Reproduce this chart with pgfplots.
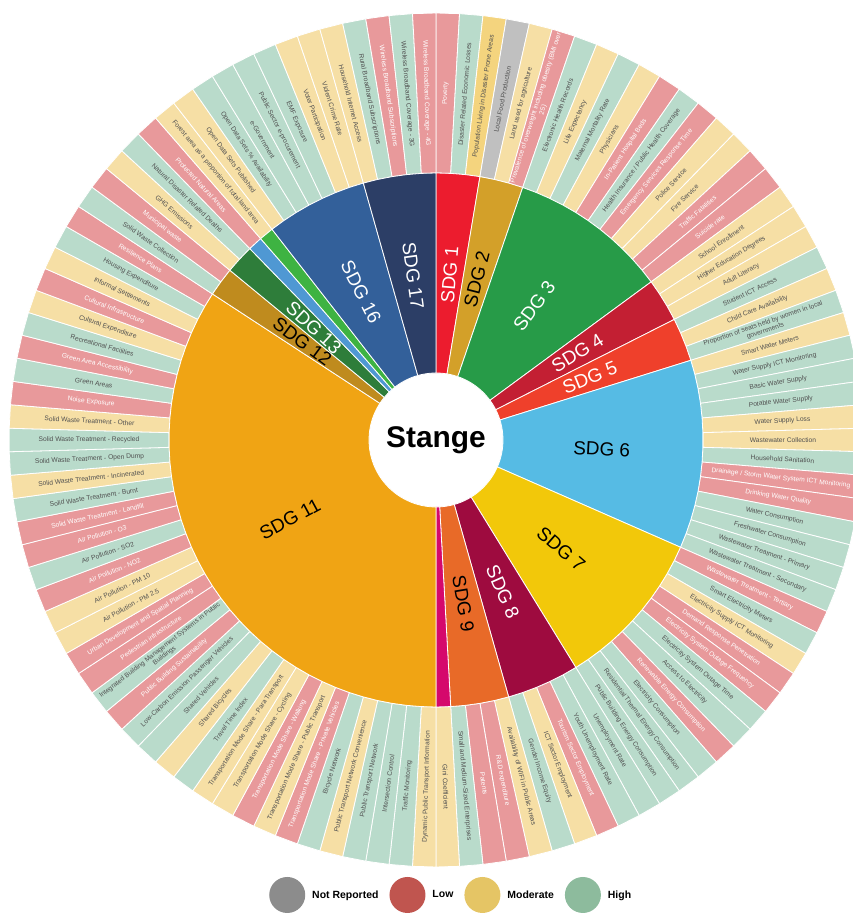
\documentclass[border=0pt]{standalone}
\usepackage{pgfplots}
\pgfplotsset{compat=1.18}
\usepackage{fontspec}
\setmainfont{Liberation Sans}

% status colours of the indicator ring
\definecolor{cL}{HTML}{E8999B}
\definecolor{cM}{HTML}{F6DFA5}
\definecolor{cMh}{HTML}{F4D47E}
\definecolor{cH}{HTML}{B9DBCB}
\definecolor{cN}{HTML}{C0C0C0}
\definecolor{txt}{HTML}{505050}
% legend colours
\definecolor{gN}{HTML}{8C8C8C}
\definecolor{gL}{HTML}{C0554F}
\definecolor{gM}{HTML}{E5C565}
\definecolor{gH}{HTML}{8DBB9D}
% SDG colours
\definecolor{s1}{HTML}{EC1C2E}
\definecolor{s2}{HTML}{D3A029}
\definecolor{s3}{HTML}{279B48}
\definecolor{s4}{HTML}{C31F33}
\definecolor{s5}{HTML}{EF402B}
\definecolor{s6}{HTML}{56BBE4}
\definecolor{s7}{HTML}{F2C80A}
\definecolor{s8}{HTML}{9E0B3F}
\definecolor{s9}{HTML}{E86A28}
\definecolor{s10}{HTML}{D5086C}
\definecolor{s11}{HTML}{F0A414}
\definecolor{s12}{HTML}{BF8B1E}
\definecolor{s13}{HTML}{2E7D3A}
\definecolor{s14}{HTML}{4F98D3}
\definecolor{s15}{HTML}{3EB342}
\definecolor{s16}{HTML}{33609A}
\definecolor{s17}{HTML}{2C3E66}

\def\step{3.1578947} % 360/114 degrees per indicator

% indicators, clockwise from 12 o'clock: status (L/M/H/N) and name
\newcount\nind
\newcommand\ind[2]{\global\advance\nind by 1
  \expandafter\xdef\csname st\the\nind\endcsname{#1}%
  \expandafter\gdef\csname lb\the\nind\endcsname{#2}}
\ind{L}{Poverty}
\ind{H}{Disaster Related Economic Losses}
\ind{Mh}{Population Living in Disaster Prone Areas}
\ind{N}{Local Food Production}
\ind{M}{Land used for agriculture}
\ind{L}{Prevalence of overweight including obesity (BMI over\\25)}
\ind{H}{Electronic Health Records}
\ind{M}{Life Expectancy}
\ind{H}{Maternal Mortality Rate}
\ind{M}{Physicians}
\ind{L}{In-Patient Hospital Beds}
\ind{H}{Health Insurance / Public Health Coverage}
\ind{L}{Emergency Services Response Time}
\ind{M}{Police Service}
\ind{M}{Fire Service}
\ind{L}{Traffic Fatalities}
\ind{L}{Suicide rate}
\ind{M}{School Enrollment}
\ind{M}{Higher Education Degrees}
\ind{M}{Adult Literacy}
\ind{H}{Student ICT Access}
\ind{M}{Child Care Availability}
\ind{H}{Proportion of seats held by women in local\\governments}
\ind{M}{Smart Water Meters}
\ind{H}{Water Supply ICT Monitoring}
\ind{H}{Basic Water Supply}
\ind{H}{Potable Water Supply}
\ind{M}{Water Supply Loss}
\ind{M}{Wastewater Collection}
\ind{H}{Household Sanitation}
\ind{L}{Drainage / Storm Water System ICT Monitoring}
\ind{L}{Drinking Water Quality}
\ind{H}{Water Consumption}
\ind{H}{Freshwater Consumption}
\ind{H}{Wastewater Treatment - Primary}
\ind{H}{Wastewater Treatment - Secondary}
\ind{L}{Wastewater Treatment - Tertiary}
\ind{H}{Smart Electricity Meters}
\ind{M}{Electricity Supply ICT Monitoring}
\ind{L}{Demand Response Penetration}
\ind{L}{Electricity System Outage Frequency}
\ind{H}{Electricity System Outage Time}
\ind{H}{Access to Electricity}
\ind{L}{Renewable Energy Consumption}
\ind{H}{Electricity Consumption}
\ind{H}{Residential Thermal Energy Consumption}
\ind{H}{Public Building Energy Consumption}
\ind{H}{Unemployment Rate}
\ind{H}{Youth Unemployment Rate}
\ind{L}{Tourism Sector Employment}
\ind{M}{ICT Sector Employment}
\ind{H}{Gender Income Equity}
\ind{M}{Availability of WIFI in Public Areas}
\ind{L}{R\&D expenditure}
\ind{L}{Patents}
\ind{H}{Small and Medium-Sized Enterprises}
\ind{M}{Gini Coefficient}
\ind{M}{Dynamic Public Transport Information}
\ind{H}{Traffic Monitoring}
\ind{H}{Intersection Control}
\ind{H}{Public Transport Network}
\ind{M}{Public Transport Network Convenience}
\ind{H}{Bicycle Network}
\ind{L}{Transportation Mode Share - Private Vehicles}
\ind{M}{Transportation Mode Share - Public Transport}
\ind{L}{Transportation Mode Share - Walking}
\ind{M}{Transportation Mode Share - Cycling}
\ind{M}{Transportation Mode Share - Para Transport}
\ind{H}{Travel Time Index}
\ind{M}{Shared Bicycles}
\ind{H}{Shared Vehicles}
\ind{H}{Low-Carbon Emission Passenger Vehicles}
\ind{L}{Public Building Sustainability}
\ind{H}{Integrated Building Management Systems in Public\\Buildings}
\ind{L}{Pedestrian infrastructure}
\ind{L}{Urban Development and Spatial Planning}
\ind{M}{Air Pollution - PM 2.5}
\ind{M}{Air Pollution - PM 10}
\ind{L}{Air Pollution - NO2}
\ind{H}{Air Pollution - SO2}
\ind{L}{Air Pollution - O3}
\ind{L}{Solid Waste Treatment - Landfill}
\ind{H}{Solid Waste Treatment - Burnt}
\ind{M}{Solid Waste Treatment - Incinerated}
\ind{H}{Solid Waste Treatment - Open Dump}
\ind{H}{Solid Waste Treatment - Recycled}
\ind{M}{Solid Waste Treatment - Other}
\ind{L}{Noise Exposure}
\ind{H}{Green Areas}
\ind{L}{Green Area Accessibility}
\ind{H}{Recreational Facilities}
\ind{M}{Cultural Expenditure}
\ind{L}{Cultural Infrastructure}
\ind{M}{Informal Settlements}
\ind{H}{Housing Expenditure}
\ind{L}{Resilience Plans}
\ind{H}{Solid Waste Collection}
\ind{L}{Municipal waste}
\ind{M}{GHG Emissions}
\ind{H}{Natural Disaster Related Deaths}
\ind{L}{Protected Natural Areas}
\ind{M}{Forest area as a proportion of total land area}
\ind{M}{Open Data Sets Published}
\ind{H}{Open Data Sets \% Availability}
\ind{H}{e-Government}
\ind{H}{Public Sector e-procurement}
\ind{H}{EMF Exposure}
\ind{M}{Voter Participation}
\ind{M}{Violent Crime Rate}
\ind{M}{Household Internet Access}
\ind{H}{Rural Broadband Subscriptions}
\ind{L}{Wireless Broadband Subscriptions}
\ind{H}{Wireless Broadband Coverage - 3G}
\ind{L}{Wireless Broadband Coverage - 4G}

% SDG wedge from indicator boundary #2 to #3
\newcommand\sdgwedge[3]{%
  \gdef\pts{}\gdef\inn{}%
  \pgfplotsforeachungrouped \j in {#2,...,#3}{%
    \pgfmathsetmacro\ang{90-\j*\step}%
    \xdef\pts{\pts (\ang,267)}\xdef\inn{(\ang,67) \inn}}%
  \edef\tmp{\noexpand\addplot[fill=#1, draw=white, line width=0.8bp,
    data cs=polar, forget plot] coordinates {\pts \inn} -- cycle;}\tmp}
\newcommand\sdglabel[4]{%
  \pgfmathsetmacro\thc{(#1+#2)*0.5*\step}%
  \pgfmathsetmacro\rot{90-\thc+180*(\thc>180)}%
  \pgfmathsetmacro\lx{166*cos(90-\thc)}%
  \pgfmathsetmacro\ly{166*sin(90-\thc)}%
  \edef\tmp{\noexpand\node[sdglab, text=#4, rotate=\rot] at (axis cs:\lx,\ly) {#3};}\tmp}

\tikzset{
  lab/.style={font=\fontsize{6.7}{7.4}\selectfont, align=center, inner sep=0pt},
  tL/.style={text=white}, tM/.style={text=txt}, tMh/.style={text=txt},
  tH/.style={text=txt}, tN/.style={text=txt},
  sdglab/.style={font=\fontsize{19}{21}\selectfont, inner sep=0pt},
}

\begin{document}
\begin{tikzpicture}
\begin{axis}[
  x=1bp, y=1bp,
  xmin=-436, xmax=417,
  ymin=-474, ymax=440,
  hide axis,
  legend columns=4,
  legend image code/.code={\fill[#1] (0bp,0bp) circle (18bp);},
  legend style={at={(0.3154,0.0208)}, anchor=west, draw=none, fill=none,
    inner sep=0pt, font=\fontsize{10.5}{12}\selectfont\bfseries,
    nodes={inner sep=0pt},
    /tikz/every odd column/.append style={column sep=7bp},
    /tikz/every even column/.append style={column sep=11bp}},
]
\addlegendimage{fill=gN, draw=none}\addlegendentry{Not Reported}
\addlegendimage{fill=gL, draw=none}\addlegendentry{Low}
\addlegendimage{fill=gM, draw=none}\addlegendentry{Moderate}
\addlegendimage{fill=gH, draw=none}\addlegendentry{High}

% outer ring: one wedge per indicator
\pgfplotsinvokeforeach{1,...,114}{%
  \pgfmathsetmacro\angA{90-(#1-1)*\step}%
  \pgfmathsetmacro\angB{90-#1*\step}%
  \edef\tmp{\noexpand\addplot[fill=c\csname st#1\endcsname, draw=white,
    line width=0.8bp, data cs=polar, forget plot]
    coordinates {(\angA,267) (\angA,427) (\angB,427) (\angB,267)} -- cycle;}\tmp
  \pgfmathsetmacro\thc{(#1-0.5)*\step}%
  \pgfmathsetmacro\rot{90-\thc+180*(\thc>180)}%
  \pgfmathsetmacro\lx{347*cos(90-\thc)}%
  \pgfmathsetmacro\ly{347*sin(90-\thc)}%
  \edef\tmp{\noexpand\node[lab, t\csname st#1\endcsname, rotate=\rot]
    at (axis cs:\lx,\ly) {\expandafter\noexpand\csname lb#1\endcsname};}\tmp
}

% inner ring: SDGs, sized by number of indicators
\sdgwedge{s1}{0}{3}
\sdgwedge{s2}{3}{6}
\sdgwedge{s3}{6}{17}
\sdgwedge{s4}{17}{20}
\sdgwedge{s5}{20}{23}
\sdgwedge{s6}{23}{36}
\sdgwedge{s7}{36}{47}
\sdgwedge{s8}{47}{52}
\sdgwedge{s9}{52}{56}
\sdgwedge{s10}{56}{57}
\sdgwedge{s11}{57}{96}
\sdgwedge{s12}{96}{98}
\sdgwedge{s13}{98}{100}
\sdgwedge{s14}{100}{101}
\sdgwedge{s15}{101}{102}
\sdgwedge{s16}{102}{109}
\sdgwedge{s17}{109}{114}

\sdglabel{0}{3}{SDG 1}{white}
\sdglabel{3}{6}{SDG 2}{black}
\sdglabel{6}{17}{SDG 3}{white}
\sdglabel{17}{20}{SDG 4}{white}
\sdglabel{20}{23}{SDG 5}{white}
\sdglabel{23}{36}{SDG 6}{black}
\sdglabel{36}{47}{SDG 7}{black}
\sdglabel{47}{52}{SDG 8}{white}
\sdglabel{52}{56}{SDG 9}{black}
\sdglabel{57}{96}{SDG 11}{black}
\sdglabel{96}{98}{SDG 12}{black}
\sdglabel{98}{100}{SDG 13}{white}
\sdglabel{102}{109}{SDG 16}{white}
\sdglabel{109}{114}{SDG 17}{white}

\node[font=\fontsize{30}{32}\selectfont\bfseries, inner sep=0pt] at (axis cs:0,0) {Stange};

\coordinate (SW) at (rel axis cs:0,0);
\coordinate (NE) at (rel axis cs:1,1);
\end{axis}
\pgfresetboundingbox
\useasboundingbox (SW) rectangle (NE);
\end{tikzpicture}
\end{document}
